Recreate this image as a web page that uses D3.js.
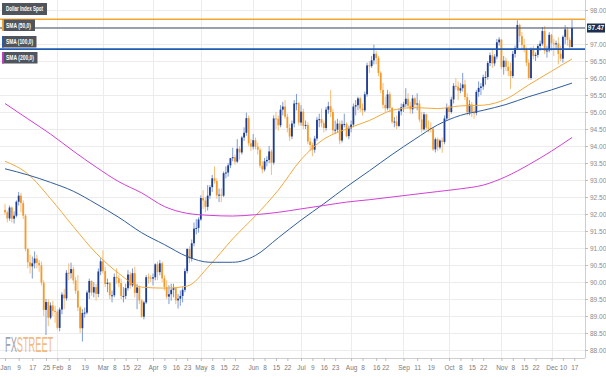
<!DOCTYPE html>
<html><head><meta charset="utf-8">
<script src="https://cdn.jsdelivr.net/npm/d3@7"></script>
<style>html,body{margin:0;padding:0;background:#fff;}svg{display:block;}</style>
</head><body>
<svg id="chart" width="606" height="377"></svg>
<script>
// ---- DATA (Dollar Index daily candles, 2018 weekdays from Jan 1) ----
const openV = [92.12,92.05,91.87,92.19,91.86,91.95,92.36,92.54,92.32,91.95,90.97,90.58,90.46,90.55,90.69,90.56,90.49,89.98,89.18,89.41,88.95,89.31,89.15,89.13,88.65,89.19,89.63,89.52,90.27,90.26,90.38,90.05,89.74,89.25,88.64,89.09,89.10,89.69,90.03,89.69,89.85,89.65,90.31,90.61,90.32,89.94,89.98,89.61,89.61,90.15,90.11,89.97,89.59,89.59,89.82,90.22,89.90,90.26,89.68,89.84,89.46,88.98,89.40,90.14,90.13,90.10,90.14,90.52,90.29,90.55,90.11,89.85,89.57,89.64,89.77,89.82,89.46,89.51,89.59,89.77,90.32,90.97,90.69,91.14,91.57,91.59,91.84,92.47,92.40,92.21,92.54,92.79,93.05,92.97,92.55,92.57,92.54,93.20,93.22,93.43,93.64,93.67,93.54,93.92,93.81,94.25,94.39,94.82,94.08,93.98,94.17,93.98,93.89,93.42,93.31,93.55,93.59,93.84,93.51,94.81,94.80,94.61,95.07,95.16,94.86,94.53,94.28,94.66,95.25,95.26,94.69,95.01,94.59,94.62,94.13,94.03,93.89,94.22,94.77,94.79,94.67,94.53,95.07,95.17,95.00,94.46,94.48,94.66,94.16,94.64,94.65,94.29,94.52,94.63,95.16,95.20,95.40,95.10,95.05,95.52,96.37,96.35,96.52,96.71,96.59,96.15,95.65,95.21,95.11,95.52,95.12,94.71,94.72,94.59,95.02,95.14,95.23,95.39,95.18,95.08,95.40,95.22,95.25,94.78,94.49,94.93,94.54,94.53,94.51,93.90,94.20,93.96,94.16,94.12,94.81,95.13,95.00,95.37,95.77,95.75,95.63,95.70,95.81,95.44,94.99,95.22,94.99,94.97,95.59,95.71,95.75,96.02,96.03,96.44,96.67,96.43,96.63,97.05,97.13,96.32,96.51,96.33,96.21,96.06,96.71,96.88,97.56,97.23,96.97,96.84,96.45,96.00,96.85,96.65,96.68,96.94,97.01,97.38,96.79,96.81,97.27,97.02,96.99,97.02,96.71,96.57,97.21,97.43,97.12,96.91];
const highV = [92.30,92.10,92.25,92.22,92.08,92.40,92.65,92.62,92.40,92.00,91.00,90.80,90.75,90.90,90.80,90.65,90.60,90.05,89.50,89.50,89.40,89.45,89.30,89.20,89.25,89.70,89.80,90.35,90.55,90.57,90.45,90.15,90.20,89.30,89.20,89.25,89.75,90.10,90.05,90.00,89.95,90.40,90.70,90.93,90.45,90.10,90.00,89.75,90.25,90.40,90.20,90.10,89.85,89.95,90.35,90.30,90.40,90.45,89.95,89.90,89.50,89.45,90.20,90.25,90.20,90.25,90.55,90.60,90.65,90.60,90.20,90.05,89.90,89.95,89.95,89.85,89.65,89.75,89.85,90.40,91.00,91.05,91.25,91.75,91.85,91.90,92.55,92.70,92.50,92.85,92.85,93.15,93.40,93.05,92.75,92.75,93.25,93.40,93.50,93.65,93.95,93.75,94.20,94.00,94.30,94.55,94.98,94.90,94.20,94.35,94.25,94.10,93.95,93.55,93.65,93.70,94.00,93.90,94.90,95.00,94.90,95.20,95.30,95.35,94.95,94.65,94.75,95.35,95.53,95.30,95.20,95.10,94.75,94.70,94.25,94.10,94.30,94.85,94.95,95.10,94.75,95.15,95.30,95.65,95.10,94.75,94.80,94.75,94.75,94.95,94.70,94.60,94.75,95.25,95.35,95.45,95.45,95.25,95.60,96.45,96.50,96.65,96.98,96.80,96.65,96.20,95.85,95.45,95.65,95.60,95.15,94.85,94.90,95.10,95.25,95.30,95.70,95.55,95.30,95.50,95.45,95.55,95.35,95.00,95.00,94.95,94.75,94.70,94.55,94.25,94.25,94.20,94.25,94.90,95.25,95.20,95.45,95.85,96.00,95.90,95.85,96.15,95.95,95.55,95.35,95.30,95.15,95.65,95.90,95.85,96.10,96.20,96.50,96.75,96.85,96.70,97.15,97.20,97.15,96.65,96.60,96.50,96.45,96.80,96.95,97.70,97.60,97.35,97.15,96.90,96.55,96.90,96.95,96.75,97.00,97.10,97.50,97.53,96.95,97.35,97.30,97.15,97.10,97.20,96.95,97.25,97.55,97.50,97.20,97.71];
const lowV = [91.98,91.75,91.80,91.75,91.72,91.90,92.25,92.05,91.85,90.90,90.40,90.25,90.10,90.40,90.40,90.30,89.90,89.00,88.44,88.70,88.90,89.00,88.80,88.60,88.55,89.05,89.20,89.45,90.05,90.10,89.95,89.65,89.15,88.50,88.25,88.95,89.05,89.50,89.60,89.55,89.45,89.55,90.20,90.25,89.85,89.70,89.50,89.40,89.55,89.95,89.85,89.50,89.40,89.50,89.75,89.80,89.85,89.55,89.20,89.35,88.95,88.90,89.35,89.95,90.00,89.90,90.05,90.05,90.20,90.00,89.75,89.50,89.35,89.45,89.55,89.35,89.22,89.30,89.40,89.70,90.25,90.55,90.60,91.05,91.40,91.45,91.80,92.15,92.05,92.10,92.45,92.65,92.90,92.45,92.35,92.35,92.50,93.05,93.10,93.35,93.55,93.45,93.50,93.60,93.75,94.15,94.30,94.00,93.85,93.90,93.90,93.75,93.35,93.20,93.25,93.40,93.50,93.15,93.45,94.50,94.45,94.55,94.90,94.80,94.40,94.15,94.20,94.55,95.05,94.60,94.60,94.50,94.50,94.05,93.85,93.70,93.80,94.15,94.55,94.55,94.40,94.45,94.95,94.85,94.35,94.35,94.40,94.05,94.10,94.55,94.25,94.20,94.40,94.55,94.90,95.05,95.00,94.90,95.00,95.45,96.15,96.30,96.40,96.40,96.05,95.55,95.10,95.00,95.05,95.00,94.65,94.55,94.50,94.55,94.90,95.00,95.15,95.10,94.95,94.95,95.10,95.05,94.70,94.40,94.45,94.45,94.40,94.40,93.85,93.81,93.85,93.90,93.80,94.05,94.75,94.80,94.95,95.25,95.65,95.35,95.55,95.60,95.35,94.90,94.90,94.85,94.80,94.90,95.45,95.50,95.65,95.80,95.95,96.35,96.30,96.35,96.55,96.95,96.25,96.10,96.20,96.05,95.68,96.00,96.60,96.85,97.05,96.85,96.75,96.35,95.95,95.95,96.55,96.50,96.60,96.80,96.95,96.70,96.60,96.75,96.80,96.65,96.85,96.40,96.50,96.45,97.00,96.95,96.85,96.90];
const closeV = [92.05,91.87,92.19,91.86,91.95,92.36,92.54,92.32,91.95,90.97,90.58,90.46,90.55,90.69,90.56,90.49,89.98,89.18,89.41,88.95,89.31,89.15,89.13,88.65,89.19,89.63,89.52,90.27,90.26,90.38,90.05,89.74,89.25,88.64,89.09,89.10,89.69,90.03,89.69,89.85,89.65,90.31,90.61,90.32,89.94,89.98,89.61,89.61,90.15,90.11,89.97,89.59,89.59,89.82,90.22,89.90,90.26,89.68,89.84,89.46,88.98,89.40,90.14,90.13,90.10,90.14,90.52,90.29,90.55,90.11,89.85,89.57,89.64,89.77,89.82,89.46,89.51,89.59,89.77,90.32,90.97,90.69,91.14,91.57,91.59,91.84,92.47,92.40,92.21,92.54,92.79,93.05,92.97,92.55,92.57,92.54,93.20,93.22,93.43,93.64,93.67,93.54,93.92,93.81,94.25,94.39,94.82,94.08,93.98,94.17,93.98,93.89,93.42,93.31,93.55,93.59,93.84,93.51,94.81,94.80,94.61,95.07,95.16,94.86,94.53,94.28,94.66,95.25,95.26,94.69,95.01,94.59,94.62,94.13,94.03,93.89,94.22,94.77,94.79,94.67,94.53,95.07,95.17,95.00,94.46,94.48,94.66,94.16,94.64,94.65,94.29,94.52,94.63,95.16,95.20,95.40,95.10,95.05,95.52,96.37,96.35,96.52,96.71,96.59,96.15,95.65,95.21,95.11,95.52,95.12,94.71,94.72,94.59,95.02,95.14,95.23,95.39,95.18,95.08,95.40,95.22,95.25,94.78,94.49,94.93,94.54,94.53,94.51,93.90,94.20,93.96,94.16,94.12,94.81,95.13,95.00,95.37,95.77,95.75,95.63,95.70,95.81,95.44,94.99,95.22,94.99,94.97,95.59,95.71,95.75,96.02,96.03,96.44,96.67,96.43,96.63,97.05,97.13,96.32,96.51,96.33,96.21,96.06,96.71,96.88,97.56,97.23,96.97,96.84,96.45,96.00,96.85,96.65,96.68,96.94,97.01,97.38,96.79,96.81,97.27,97.02,96.99,97.02,96.71,96.57,97.21,97.43,97.12,96.91,97.47];

const smaIdx = [0,10,20,30,40,50,60,70,80,90,100,110,120,130,140,150,160,170,180,190,200,210,220,230,240,249];
const sma50  = [93.55,93.18,92.45,91.63,90.85,90.25,89.85,89.82,89.88,90.50,91.27,91.95,92.70,93.60,94.20,94.50,94.75,95.05,95.13,95.10,95.18,95.20,95.38,95.80,96.20,96.56];
const sma100 = [93.33,93.15,92.93,92.67,92.30,91.90,91.45,91.10,90.75,90.58,90.58,90.78,91.30,91.82,92.30,92.80,93.27,93.75,94.20,94.62,94.90,95.05,95.22,95.45,95.65,95.85];
const sma200 = [95.25,94.80,94.35,93.85,93.38,92.95,92.62,92.22,92.02,91.96,91.94,91.98,92.05,92.15,92.25,92.35,92.42,92.50,92.58,92.66,92.74,92.85,93.10,93.45,93.85,94.25];

const levels = [97.73, 97.47, 96.85];           // resistance / last price / support
const lastPrice = 97.47;
const tickDates = ["2018-01-01","2018-01-09","2018-01-17","2018-01-25","2018-02-01","2018-02-08","2018-02-19","2018-03-01","2018-03-08","2018-03-15","2018-03-22","2018-04-02","2018-04-09","2018-04-16","2018-04-23","2018-05-01","2018-05-08","2018-05-15","2018-05-22","2018-06-01","2018-06-08","2018-06-15","2018-06-22","2018-07-02","2018-07-09","2018-07-16","2018-07-23","2018-08-01","2018-08-08","2018-08-16","2018-08-22","2018-09-03","2018-09-11","2018-09-19","2018-10-01","2018-10-08","2018-10-15","2018-10-22","2018-11-01","2018-11-08","2018-11-15","2018-11-22","2018-12-03","2018-12-10","2018-12-17"];
const tickLabels = ["Jan","9","17","25","Feb","8","19","Mar","8","15","22","Apr","9","16","23","May","8","15","22","Jun","8","15","22","Jul","9","16","23","Aug","8","16","22","Sep","11","19","Oct","8","15","22","Nov","8","15","22","Dec","10","17"];
const monthStarts = ["2018-02-01","2018-03-01","2018-04-02","2018-05-01","2018-06-01","2018-07-02","2018-08-01","2018-09-03","2018-10-01","2018-11-01","2018-12-03"];
const yGrid = [88,88.5,89,89.5,90,90.5,91,91.5,92,92.5,93,93.5,94,94.5,95,95.5,96,96.5,97,97.5,98];
const yLabels = [88,88.5,89,89.5,90,90.5,91,91.5,92,92.5,93,93.5,94,94.5,95,95.5,96,96.5,97,98];  // 97.50 hidden by price tag
const legendTitle = "Dollar Index Spot";
const legendItems = ["SMA (50,0)","SMA (100,0)","SMA (200,0)"];
const legendColors = ["#f2a93b","#2a5aa8","#c43fc4"];

// ---- BUILD ----
const weekdays = d3.timeDay.range(new Date(2018,0,1), new Date(2018,11,31)).filter(d => d.getDay() !== 0 && d.getDay() !== 6);
const parse = d3.timeParse("%Y-%m-%d");
const dayIndex = s => { const t = +parse(s); return weekdays.findIndex(d => +d === t); };

const candles = closeV.map((c,i) => ({i, o:openV[i], h:highV[i], l:lowV[i], c}));

const svg = d3.select("#chart");
const plotR = 585, plotB = 358;
const FONT = "'Liberation Sans Narrow','Liberation Sans',Arial,sans-serif";

const x = d3.scaleLinear().domain([0, 249]).range([5, 572]);
const y = d3.scaleLinear().domain([88, 98]).range([350, 10]);

// grid
const grid = svg.append("g");
grid.selectAll("line.h").data(yGrid).join("line")
  .attr("x1", 0).attr("x2", plotR).attr("y1", d => Math.round(y(d))+0.5).attr("y2", d => Math.round(y(d))+0.5)
  .attr("stroke", "#ececec").attr("stroke-width", 1);
grid.selectAll("line.v").data(monthStarts).join("line")
  .attr("x1", d => Math.round(x(dayIndex(d)))+0.5).attr("x2", d => Math.round(x(dayIndex(d)))+0.5)
  .attr("y1", 0).attr("y2", plotB)
  .attr("stroke", "#ececec").attr("stroke-width", 1);

// candles
const bw = 1.8;
const cg = svg.append("g");
cg.selectAll("line.wick").data(candles).join("line")
  .attr("x1", d => x(d.i)).attr("x2", d => x(d.i))
  .attr("y1", d => y(d.h)).attr("y2", d => y(d.l))
  .attr("stroke", d => d.c >= d.o ? "#7f9bd3" : "#f6bd78").attr("stroke-width", 1);
cg.selectAll("rect").data(candles).join("rect")
  .attr("x", d => x(d.i) - bw/2).attr("width", bw)
  .attr("y", d => y(Math.max(d.o,d.c)))
  .attr("height", d => Math.max(1, Math.abs(y(d.o) - y(d.c))))
  .attr("fill", d => d.c >= d.o ? "#1d3c94" : "#f39a2a");

// SMAs
const smaLine = d3.line().x(d => x(d[0])).y(d => y(d[1])).curve(d3.curveMonotoneX);
[[sma50,"#f2a93b"],[sma100,"#2f5d9c"],[sma200,"#d23fd6"]].forEach(([arr,col]) => {
  svg.append("path").datum(smaIdx.map((k,j) => [k, arr[j]]))
    .attr("d", smaLine).attr("fill","none").attr("stroke", col).attr("stroke-width", 1);
});

// horizontal levels
const lvlColors = ["#f2a531","#3f4d66","#1f5ab5"];
const lvlWidths = [1.6, 1, 1.6];
svg.selectAll("line.lvl").data(levels).join("line")
  .attr("x1", 0).attr("x2", plotR).attr("y1", d => y(d)).attr("y2", d => y(d))
  .attr("stroke", (d,i) => lvlColors[i]).attr("stroke-width", (d,i) => lvlWidths[i]);

// right axis
const ya = svg.append("g").attr("transform", `translate(${plotR},0)`)
  .call(d3.axisRight(y).tickValues(yLabels).tickFormat(d3.format(".2f")).tickSize(3).tickPadding(2));
ya.select(".domain").attr("stroke", "#cfcfcf").attr("d", `M0.5,0V${plotB}`);
ya.selectAll(".tick line").attr("stroke", "#bdbdbd");
ya.selectAll("text").attr("fill", "#8a8a8a").style("font-family", FONT).style("font-size", "6.5px");

// bottom axis
const xa = svg.append("g").attr("transform", `translate(0,${plotB})`)
  .call(d3.axisBottom(x).tickValues(tickDates.map(dayIndex)).tickFormat((d,i) => tickLabels[i]).tickSize(3).tickPadding(4));
xa.select(".domain").attr("stroke", "#cfcfcf").attr("d", `M0,0.5H${plotR}`);
xa.selectAll(".tick line").attr("stroke", "#bdbdbd");
xa.selectAll("text").attr("fill", "#7a7a7a").style("font-family", FONT).style("font-size", "6.5px");

// last price tag
const tag = svg.append("g");
tag.append("rect").attr("x", plotR+2).attr("y", y(lastPrice)-4.5).attr("width", 18).attr("height", 9).attr("fill", "#1e2e4f");
tag.append("text").attr("x", plotR+11).attr("y", y(lastPrice)+2.3).attr("text-anchor","middle")
  .attr("fill","#fff").style("font-family",FONT).style("font-size","6.5px").style("font-weight","bold")
  .text(d3.format(".2f")(lastPrice));

// legend boxes
const lg = svg.append("g").style("font-family",FONT).style("font-size","6.8px").style("font-weight","bold");
lg.append("rect").attr("x",2).attr("y",3).attr("width",45).attr("height",12).attr("fill","#50545c");
lg.append("text").attr("x",6).attr("y",11.4).attr("fill","#fff")
  .attr("textLength",37).attr("lengthAdjust","spacingAndGlyphs").text(legendTitle);
const boxY = [19.5, 36, 52], boxW = [33, 34.5, 35.5], txtW = [25, 27, 28];
legendItems.forEach((t,i) => {
  lg.append("rect").attr("x",2).attr("y",boxY[i]).attr("width",boxW[i]).attr("height",11.5).attr("fill","#50545c");
  lg.append("rect").attr("x",2).attr("y",boxY[i]).attr("width",1.8).attr("height",11.5).attr("fill",legendColors[i]);
  lg.append("text").attr("x",6).attr("y",boxY[i]+8.2).attr("fill","#fff")
    .attr("textLength",txtW[i]).attr("lengthAdjust","spacingAndGlyphs").text(t);
});

// FXSTREET logo: one condensed text, horizontally squeezed
const lgo = svg.append("g").attr("opacity",0.85).attr("transform","translate(5,352) scale(0.42,1)");
const lt = lgo.append("text").attr("x",0).attr("y",0).style("font-family","'Liberation Sans',Arial,sans-serif").style("font-size","22px");
lt.append("tspan").attr("fill","#8c93a3").text("FX");
lt.append("tspan").attr("fill","#f0b06a").text("STREET");
</script>
</body></html>
